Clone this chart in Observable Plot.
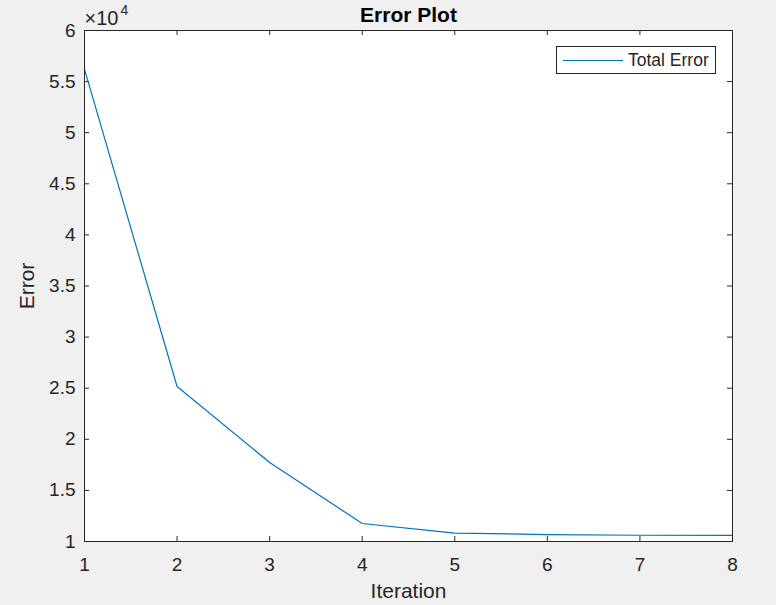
<!DOCTYPE html>
<html>
<head>
<meta charset="utf-8">
<script src="https://cdn.jsdelivr.net/npm/d3@7"></script>
<script src="https://cdn.jsdelivr.net/npm/@observablehq/plot@0.6"></script>
<style>
  html, body { margin: 0; padding: 0; background: #f0f0f0; }
  #wrap { position: relative; width: 776px; height: 605px; font-family: "Liberation Sans", Arial, sans-serif; }
  #legend { position: absolute; left: 556px; top: 46px; width: 160px; height: 28px; background: #fff; border: 1px solid #262626; box-sizing: border-box; display: flex; align-items: center; font-size: 17.5px; color: #262626; }
  #legend .sw { width: 60px; height: 0; border-top: 1px solid #0072BD; margin-left: 6px; margin-right: 5px; }
</style>
</head>
<body>
<div id="wrap"></div>
<script>
const iterations = [1, 2, 3, 4, 5, 6, 7, 8];
const totalError = [56200, 25170, 17730, 11760, 10820, 10680, 10610, 10590];
const xTicks = [1, 2, 3, 4, 5, 6, 7, 8];
const yTicks = [10000, 15000, 20000, 25000, 30000, 35000, 40000, 45000, 50000, 55000, 60000];
const seriesName = "Total Error";

const data = iterations.map((it, i) => ({iteration: it, error: totalError[i]}));
const xDom = [1, 8], yDom = [10000, 60000];
const W = 776, H = 605, mL = 84, mR = 44, mT = 30, mB = 64;
const tickPx = 5;
const yTickLen = (yDom[1] - yDom[0]) * tickPx / (H - mT - mB);
const xTickLen = (xDom[1] - xDom[0]) * tickPx / (W - mL - mR);
const ink = "#262626";

const chart = Plot.plot({
  width: W, height: H,
  marginLeft: mL, marginRight: mR, marginTop: mT, marginBottom: mB,
  style: {background: "transparent", fontFamily: "'Liberation Sans', Arial, sans-serif", fontSize: "19px", color: ink, overflow: "visible"},
  x: {domain: xDom, label: null},
  y: {domain: yDom, label: null},
  marks: [
    Plot.frame({fill: "white", stroke: null}),
    Plot.axisX(xTicks, {tickSize: 0, tickPadding: 16, fontSize: 19, fill: ink}),
    Plot.axisY(yTicks, {tickSize: 0, tickPadding: 9, fontSize: 19, fill: ink, tickFormat: d => String(d / 1e4)}),
    Plot.ruleX(xTicks, {x: d => d, y1: yDom[0], y2: yDom[0] + yTickLen, stroke: ink}),
    Plot.ruleX(xTicks, {x: d => d, y1: yDom[1], y2: yDom[1] - yTickLen, stroke: ink}),
    Plot.ruleY(yTicks, {y: d => d, x1: xDom[0], x2: xDom[0] + xTickLen, stroke: ink}),
    Plot.ruleY(yTicks, {y: d => d, x1: xDom[1], x2: xDom[1] - xTickLen, stroke: ink}),
    Plot.line(data, {x: "iteration", y: "error", stroke: "#0072BD", strokeWidth: 1.2}),
    Plot.frame({stroke: ink, strokeWidth: 1}),
    Plot.text(["Error Plot"], {frameAnchor: "top", lineAnchor: "middle", dy: -15, text: d => d, fontWeight: "bold", fontSize: 21, fill: "#000"}),
    Plot.text(["Iteration"], {frameAnchor: "bottom", lineAnchor: "middle", dy: 50, text: d => d, fontSize: 21, fill: ink}),
    Plot.text(["Error"], {frameAnchor: "left", lineAnchor: "middle", textAnchor: "middle", dx: -57, rotate: -90, text: d => d, fontSize: 21, fill: ink}),
    Plot.text(["\u00d710"], {frameAnchor: "top-left", lineAnchor: "middle", textAnchor: "start", dx: 0, dy: -12, text: d => d, fontSize: 20, fill: ink}),
    Plot.text(["4"], {frameAnchor: "top-left", lineAnchor: "middle", textAnchor: "start", dx: 36, dy: -20, text: d => d, fontSize: 14, fill: ink})
  ]
});
const wrap = document.getElementById("wrap");
wrap.appendChild(chart);
const lg = document.createElement("div");
lg.id = "legend";
lg.innerHTML = '<div class="sw"></div><span></span>';
lg.querySelector("span").textContent = seriesName;
wrap.appendChild(lg);
</script>
</body>
</html>
